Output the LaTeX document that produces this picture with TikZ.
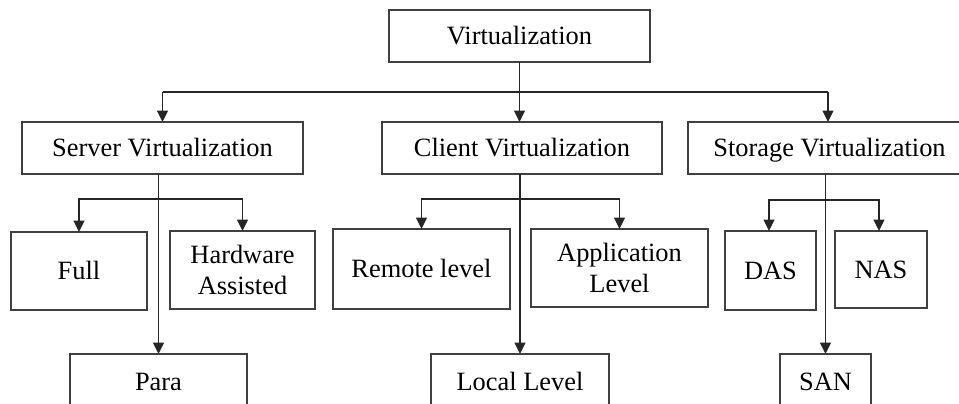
\documentclass[tikz,border=0pt]{standalone}
\usepackage{fontspec}
\setmainfont{Liberation Serif}
\usetikzlibrary{arrows.meta}
\begin{document}
\begin{tikzpicture}[x=0.75pt,y=-0.75pt,
  box/.style={draw=black!75, line width=1.35pt, inner sep=0pt, outer sep=0pt,
    align=center, font=\fontsize{19.8}{23.5}\selectfont},
  oneline/.style={text height=13.1pt, text depth=0pt},
  wh/.style 2 args={minimum width=#1*0.75pt, minimum height=#2*0.75pt},
  link/.style={draw=black!85, line width=1.35pt},
  arr/.style={link, -{Triangle[length=8.5pt,width=8pt]}}]
\useasboundingbox (0,0) rectangle (959,403);
\clip (0,0) rectangle (959,403);

% root
\node[box, oneline, wh={261}{52}] (root) at (519.5,36) {Virtualization};

% second level
\node[box, oneline, wh={281}{52}] (server)  at (162.5,148) {Server Virtualization};
\node[box, oneline, wh={280}{52}] (client)  at (522,148)   {Client Virtualization};
\node[box, oneline, wh={283}{52}] (storage) at (829.5,148) {Storage Virtualization};

% server virtualization types
\node[box, oneline, wh={136}{78}] (full) at (79,271)    {Full};
\node[box, wh={145}{78}] (hw)   at (242.5,270) {Hardware\\Assisted};
\node[box, oneline, wh={177}{56}] (para) at (158.5,382) {Para};

% client virtualization types
\node[box, oneline, wh={177}{80}] (remote) at (421.5,269) {Remote level};
\node[box, wh={177}{78}] (app)    at (619.5,268) {Application\\Level};
\node[box, oneline, wh={178}{56}] (local)  at (520,382)   {Local Level};

% storage virtualization types
\node[box, oneline, wh={91}{79}] (das) at (770.5,270.5) {DAS};
\node[box, oneline, wh={92}{77}] (nas) at (881,269.5)   {NAS};
\node[box, oneline, wh={91}{56}] (san) at (825.5,382)   {SAN};

% root fan-out
\coordinate (rj) at (519.5,92);
\coordinate (rl) at (162.5,92);
\coordinate (rr) at (828,92);
\draw[link] (root.south) -- (rj);
\draw[link] (rl) -- (rr);
\draw[arr] (rl) -- (server.north);
\draw[arr] (rj) -- (client.north -| rj);
\draw[arr] (rr) -- (storage.north -| rr);

% server fan-out
\coordinate (sj) at (158.5,199);
\draw[arr] (server.south -| para.north) -- (para.north);
\draw[arr] (sj) -| (full.north);
\draw[arr] (sj) -| (hw.north);

% client fan-out
\coordinate (cj) at (520,199);
\draw[arr] (client.south -| local.north) -- (local.north);
\draw[arr] (cj) -| (remote.north);
\draw[arr] (cj) -| (app.north);

% storage fan-out
\coordinate (tj) at (825.5,200);
\draw[arr] (storage.south -| san.north) -- (san.north);
\draw[arr] (tj) -| ([xshift=-1.5*0.75pt]das.north);
\draw[arr] (tj) -| ([xshift=-2*0.75pt]nas.north);
\end{tikzpicture}
\end{document}
